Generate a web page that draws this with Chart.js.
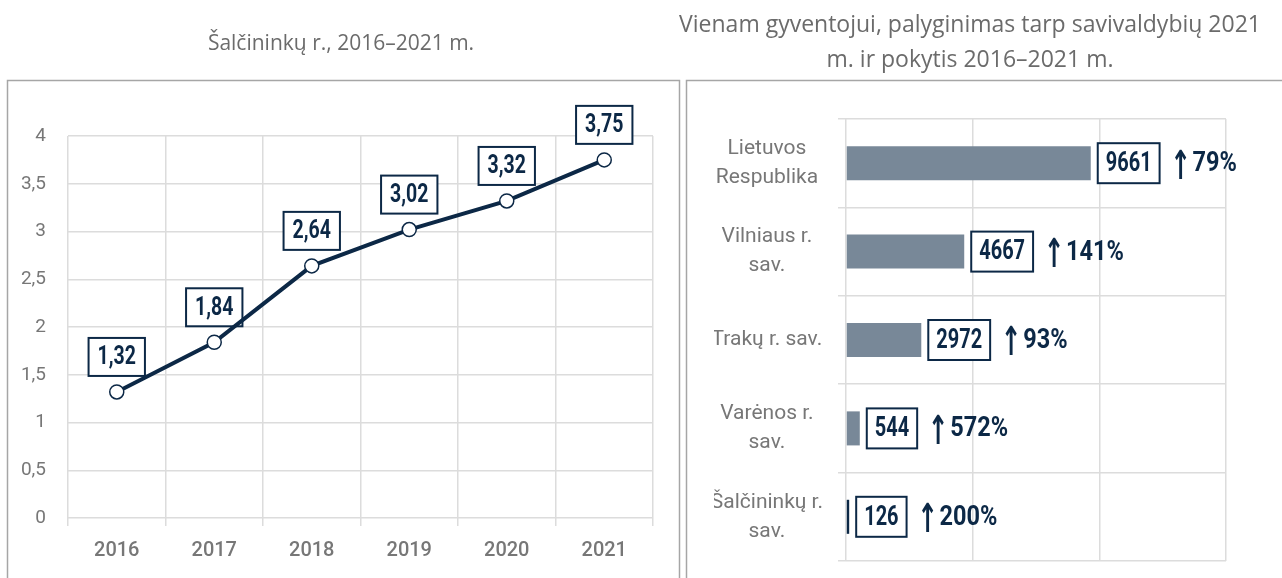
<!DOCTYPE html>
<html><head><meta charset="utf-8">
<script src="https://cdn.jsdelivr.net/npm/chart.js@4"></script>
<style>
html,body{margin:0;padding:0;background:#fff;overflow:hidden;}
#wrapL{position:absolute;left:0;top:0;width:683px;height:578px;}
#wrapR{position:absolute;left:655px;top:0;width:627px;height:578px;}
</style></head><body>
<div id="wrapL"><canvas id="cL"></canvas></div>
<div id="wrapR"><canvas id="cR"></canvas></div>
<script>
// ---- data ----
const years = ['2016','2017','2018','2019','2020','2021'];
const perCapitaValues = [1.32, 1.84, 2.64, 3.02, 3.32, 3.75];
const yTickLabels = ['0','0,5','1','1,5','2','2,5','3','3,5','4'];
const municipalities = [['Lietuvos','Respublika'], ['Vilniaus r.','sav.'], 'Trakų r. sav.', ['Varėnos r.','sav.'], ['Šalčininkų r.','sav.']];
const values2021 = [9661, 4667, 2972, 544, 126];
const change2016_2021 = [79, 141, 93, 572, 200];
const titleLeft = 'Šalčininkų r., 2016–2021 m.';
const titleRight = ['Vienam gyventojui, palyginimas tarp savivaldybių 2021', 'm. ir pokytis 2016–2021 m.'];

// ---- styles ----
const NAVY = '#0c2846';
const BAR_GRAY = '#788898';
const GRID = '#dcdcdc';
const LABEL_GRAY = '#777777';
const TITLE_GRAY = '#6b6b6b';
const SANS = "Roboto, 'DejaVu Sans', sans-serif";
const TITLE_FONT = "'Open Sans', sans-serif";
const fmtComma = v => v.toFixed(2).replace('.', ',');

function scaledText(ctx, txt, x, y, sx, align) {
  ctx.save();
  ctx.translate(x, y);
  ctx.scale(sx, 1);
  ctx.textAlign = align;
  ctx.fillText(txt, 0, 0);
  ctx.restore();
}

const panelBorder = {
  id: 'panelBorder',
  beforeDraw(chart, args, o) {
    const ctx = chart.ctx;
    ctx.save();
    ctx.strokeStyle = '#a6a6a6';
    ctx.lineWidth = 1.5;
    ctx.strokeRect(o.x, o.y, o.w, o.h);
    ctx.restore();
  }
};

// re-centre the title box (keeps Chart.js title, just widens/moves its box)
const titleBox = {
  id: 'titleBox',
  afterLayout(chart, args, o) {
    const t = chart.titleBlock;
    if (!t) return;
    t.left = o.cx - o.hw;
    t.right = o.cx + o.hw;
    t.width = 2 * o.hw;
  }
};

const lineLabels = {
  id: 'lineLabels',
  beforeDatasetsDraw(chart) {
    const ctx = chart.ctx;
    const meta = chart.getDatasetMeta(0);
    const sx = 0.78;
    ctx.save();
    ctx.font = 'bold 25px ' + SANS;
    ctx.textBaseline = 'middle';
    meta.data.forEach((pt, i) => {
      const txt = fmtComma(chart.data.datasets[0].data[i]);
      const tw = ctx.measureText(txt).width * sx;
      const bw = tw + 18, bh = 38;
      const bx = pt.x - bw / 2, by = pt.y - 16 - bh;
      ctx.fillStyle = '#fff';
      ctx.fillRect(bx, by, bw, bh);
      ctx.lineWidth = 2;
      ctx.strokeStyle = NAVY;
      ctx.strokeRect(bx, by, bw, bh);
      ctx.fillStyle = NAVY;
      scaledText(ctx, txt, pt.x, by + bh / 2 + 1, sx, 'center');
    });
    ctx.restore();
  }
};

const barLabels = {
  id: 'barLabels',
  afterDatasetsDraw(chart) {
    const ctx = chart.ctx;
    const meta = chart.getDatasetMeta(0);
    const sx = 0.74;
    ctx.save();
    ctx.textBaseline = 'middle';
    meta.data.forEach((bar, i) => {
      const txt = String(chart.data.datasets[0].data[i]);
      ctx.font = 'bold 27px ' + SANS;
      const tw = ctx.measureText(txt).width * sx;
      const bw = tw + 16, bh = 40;
      const bx = bar.x + 7, by = bar.y - bh / 2;
      ctx.fillStyle = '#fff';
      ctx.fillRect(bx, by, bw, bh);
      ctx.lineWidth = 2;
      ctx.strokeStyle = NAVY;
      ctx.strokeRect(bx, by, bw, bh);
      ctx.fillStyle = NAVY;
      scaledText(ctx, txt, bx + bw / 2, bar.y + 1, sx, 'center');
      const right = bx + bw;
      ctx.font = 'bold 40px "DejaVu Sans"';
      scaledText(ctx, '↑', right + 21, bar.y + 5, 0.62, 'center');
      ctx.font = 'bold 28px ' + SANS;
      scaledText(ctx, change2016_2021[i] + '%', right + 33, bar.y + 1, 0.84, 'left');
    });
    ctx.restore();
  }
};

new Chart(document.getElementById('cL'), {
  type: 'line',
  data: {
    labels: years,
    datasets: [{
      data: perCapitaValues,
      borderColor: NAVY,
      borderWidth: 4,
      tension: 0,
      pointRadius: 7,
      pointHoverRadius: 7,
      pointBackgroundColor: '#fff',
      pointBorderColor: NAVY,
      pointBorderWidth: 1.5
    }]
  },
  options: {
    responsive: true,
    maintainAspectRatio: false,
    animation: false,
    layout: { padding: { left: 0, right: 30, top: 0, bottom: 0 } },
    plugins: {
      legend: { display: false },
      tooltip: { enabled: false },
      title: {
        display: true, text: titleLeft, color: TITLE_GRAY,
        font: { family: TITLE_FONT, size: 21, weight: 'normal', lineHeight: 1.2 },
        padding: { top: 31.4, bottom: 79.4 }
      },
      titleBox: { cx: 341, hw: 330 },
      panelBorder: { x: 7.5, y: 80.5, w: 672, h: 600 }
    },
    scales: {
      x: {
        offset: true,
        grid: { offset: true, color: GRID, lineWidth: 1.5, tickLength: 8, drawTicks: true },
        border: { display: false },
        ticks: { color: LABEL_GRAY, font: { family: SANS, size: 20, weight: '500' }, padding: 13 },
        afterFit(s) { s.height = 60; }
      },
      y: {
        min: 0, max: 4,
        ticks: {
          stepSize: 0.5,
          callback: v => yTickLabels[Math.round(v * 2)],
          color: LABEL_GRAY, font: { family: SANS, size: 19 }, padding: 22
        },
        grid: { color: GRID, lineWidth: 1.5, drawTicks: false },
        border: { display: false },
        afterFit(s) { s.width = 68; s.paddingTop = 0; s.paddingBottom = 0; }
      }
    }
  },
  plugins: [panelBorder, titleBox, lineLabels]
});

new Chart(document.getElementById('cR'), {
  type: 'bar',
  data: {
    labels: municipalities,
    datasets: [{
      data: values2021,
      backgroundColor: c => c.dataIndex === 4 ? NAVY : BAR_GRAY,
      barPercentage: 0.385,
      categoryPercentage: 1
    }]
  },
  options: {
    indexAxis: 'y',
    responsive: true,
    maintainAspectRatio: false,
    animation: false,
    layout: { padding: { left: 59, right: 56, top: 0, bottom: 17 } },
    plugins: {
      legend: { display: false },
      tooltip: { enabled: false },
      title: {
        display: true, text: titleRight, color: TITLE_GRAY,
        font: { family: TITLE_FONT, size: 23, weight: 'normal', lineHeight: 35 / 23 },
        padding: { top: 7.5, bottom: 41.5 }
      },
      titleBox: { cx: 315, hw: 305 },
      panelBorder: { x: 31.5, y: 80.5, w: 700, h: 600 }
    },
    scales: {
      x: {
        min: 0, max: 15000,
        ticks: { display: false, stepSize: 5000 },
        grid: { color: GRID, lineWidth: 1.5, drawTicks: false },
        border: { display: false },
        afterFit(s) { s.height = 0; s.paddingLeft = 0; s.paddingRight = 0; }
      },
      y: {
        grid: { color: GRID, lineWidth: 1.5, tickLength: 8, offset: true },
        border: { display: false },
        ticks: { crossAlign: 'center', color: LABEL_GRAY, font: { family: SANS, size: 21, lineHeight: 1.38 }, padding: 15 },
        afterFit(s) { s.width = 132; s.paddingTop = 0; s.paddingBottom = 0; }
      }
    }
  },
  plugins: [panelBorder, titleBox, barLabels]
});
</script>
</body></html>
